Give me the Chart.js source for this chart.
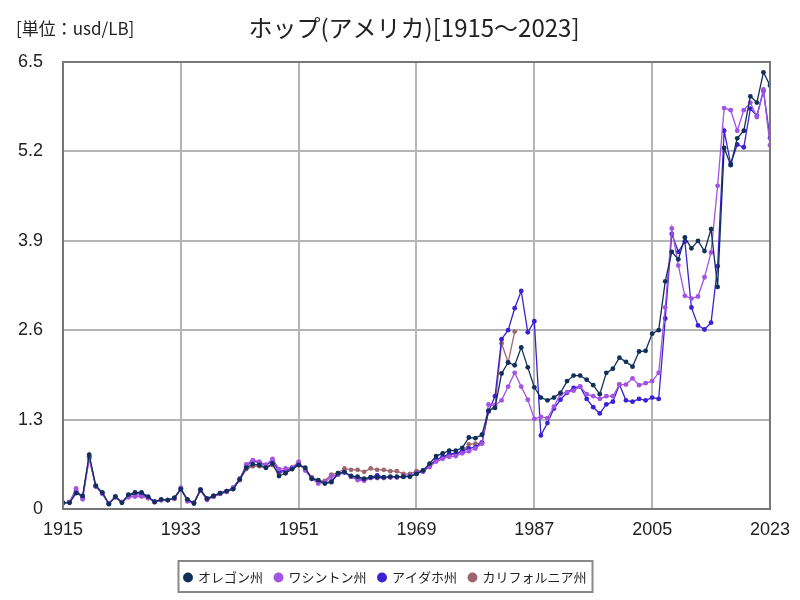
<!DOCTYPE html>
<html>
<head>
<meta charset="utf-8">
<script src="https://cdn.jsdelivr.net/npm/chart.js@4"></script>
<style>
  html, body { margin: 0; padding: 0; background: #fff; }
  #wrap { width: 800px; height: 600px; }
</style>
</head>
<body>
<div id="wrap"><canvas id="hopChart" width="800" height="600"></canvas></div>
<script>
// years 1915..2023
const years = [];
for (let y = 1915; y <= 2023; y++) years.push(y);

const xTicks = [1915, 1933, 1951, 1969, 1987, 2005, 2023];
const yTicks = [0, 1.3, 2.6, 3.9, 5.2, 6.5];

const oregon = [
  0.09, 0.09, 0.23, 0.19, 0.79, 0.34, 0.24, 0.07, 0.18, 0.09,
  0.21, 0.24, 0.24, 0.18, 0.10, 0.14, 0.13, 0.16, 0.29, 0.14,
  0.08, 0.28, 0.15, 0.19, 0.23, 0.26, 0.29, 0.43, 0.60, 0.65,
  0.64, 0.60, 0.66, 0.48, 0.52, 0.58, 0.64, 0.60, 0.44, 0.42,
  0.37, 0.39, 0.52, 0.54, 0.48, 0.47, 0.44, 0.46, 0.46, 0.46,
  0.47, 0.47, 0.47, 0.47, 0.51, 0.56, 0.66, 0.77, 0.81, 0.85,
  0.85, 0.89, 1.04, 1.03, 1.08, 1.43, 1.47, 1.97, 2.13, 2.09,
  2.35, 2.06, 1.77, 1.62, 1.58, 1.62, 1.69, 1.86, 1.94, 1.94,
  1.88, 1.80, 1.67, 1.98, 2.04, 2.20, 2.14, 2.07, 2.29, 2.30,
  2.55, 2.60, 3.31, 3.74, 3.63, 3.95, 3.79, 3.90, 3.75, 4.07,
  3.23, 5.25, 5.00, 5.39, 5.50, 6.00, 5.91, 6.35, 6.16
];

const washington = [
  0.09, 0.10, 0.30, 0.14, 0.73, 0.33, 0.22, 0.08, 0.17, 0.10,
  0.17, 0.18, 0.18, 0.16, 0.10, 0.13, 0.13, 0.15, 0.31, 0.11,
  0.09, 0.27, 0.13, 0.18, 0.22, 0.25, 0.30, 0.43, 0.65, 0.71,
  0.69, 0.64, 0.73, 0.58, 0.59, 0.60, 0.69, 0.56, 0.44, 0.37,
  0.39, 0.47, 0.50, 0.54, 0.47, 0.42, 0.41, 0.45, 0.45, 0.45,
  0.46, 0.46, 0.47, 0.49, 0.52, 0.54, 0.61, 0.69, 0.73, 0.76,
  0.77, 0.81, 0.84, 0.88, 0.95, 1.52, 1.51, 1.58, 1.78, 1.98,
  1.78, 1.59, 1.31, 1.34, 1.32, 1.49, 1.67, 1.70, 1.72, 1.78,
  1.67, 1.64, 1.60, 1.64, 1.64, 1.81, 1.81, 1.90, 1.80, 1.83,
  1.86, 1.98, 2.93, 4.08, 3.54, 3.10, 3.06, 3.09, 3.37, 3.73,
  4.70, 5.83, 5.80, 5.50, 5.80, 5.91, 5.70, 6.10, 5.29
];

const idaho = [
  0.09, 0.10, 0.25, 0.17, 0.76, 0.33, 0.23, 0.08, 0.18, 0.10,
  0.20, 0.22, 0.22, 0.17, 0.11, 0.13, 0.13, 0.16, 0.29, 0.13,
  0.09, 0.28, 0.15, 0.19, 0.23, 0.26, 0.31, 0.44, 0.62, 0.70,
  0.67, 0.64, 0.70, 0.55, 0.56, 0.60, 0.66, 0.58, 0.45, 0.40,
  0.38, 0.40, 0.50, 0.53, 0.47, 0.44, 0.43, 0.46, 0.49, 0.46,
  0.46, 0.46, 0.47, 0.48, 0.52, 0.55, 0.63, 0.72, 0.76, 0.80,
  0.81, 0.84, 0.88, 0.90, 0.97, 1.42, 1.64, 2.47, 2.60, 2.92,
  3.17, 2.57, 2.73, 1.07, 1.25, 1.46, 1.59, 1.69, 1.76, 1.78,
  1.60, 1.48, 1.39, 1.52, 1.56, 1.81, 1.58, 1.56, 1.60, 1.58,
  1.62, 1.60, 2.77, 4.00, 3.74, 3.89, 2.93, 2.67, 2.61, 2.71,
  3.53, 5.50, 5.02, 5.30, 5.26, 5.82, 5.72, 6.08, 5.40
];

// California series stops after 1984
const california = [
  0.09, 0.10, 0.27, 0.18, 0.75, 0.33, 0.23, 0.08, 0.17, 0.10,
  0.18, 0.19, 0.19, 0.16, 0.10, 0.13, 0.13, 0.15, 0.30, 0.13,
  0.09, 0.27, 0.14, 0.18, 0.22, 0.25, 0.29, 0.42, 0.58, 0.62,
  0.62, 0.60, 0.64, 0.52, 0.55, 0.58, 0.64, 0.58, 0.46, 0.41,
  0.41, 0.50, 0.52, 0.59, 0.57, 0.57, 0.54, 0.59, 0.57, 0.57,
  0.55, 0.55, 0.51, 0.51, 0.55, 0.56, 0.63, 0.71, 0.75, 0.78,
  0.80, 0.83, 0.94, 0.95, 0.96, 1.42, 1.50, 2.41, 2.13, 2.58
];

const seriesNames = ["オレゴン州", "ワシントン州", "アイダホ州", "カリフォルニア州"];
const seriesColors = ["#10305a", "#a452e4", "#3b21d4", "#a0666f"];

function toPoints(vals) {
  return vals.map((v, i) => ({ x: years[i], y: v }));
}

// draws the unit label, title and a frame round the legend items
const decorPlugin = {
  id: "decor",
  afterDraw(chart) {
    const ctx = chart.ctx;
    ctx.save();
    ctx.fillStyle = "#222";
    ctx.textBaseline = "middle";
    ctx.font = '17px "Noto Sans CJK JP"';
    ctx.textAlign = "left";
    ctx.fillText("[単位：usd/LB]", 16, 29);
    ctx.font = '24px "Noto Sans CJK JP"';
    ctx.textAlign = "center";
    ctx.fillText("ホップ(アメリカ)[1915～2023]", 414, 28);

    const boxes = chart.legend.legendHitBoxes;
    if (boxes && boxes.length) {
      const left = Math.min(...boxes.map(b => b.left)) - 6;
      const right = Math.max(...boxes.map(b => b.left + b.width)) + 6;
      const top = chart.legend.top + 2;
      const bottom = chart.legend.bottom - 2;
      ctx.strokeStyle = "#888";
      ctx.lineWidth = 2;
      ctx.strokeRect(left, top, right - left, bottom - top);
    }
    ctx.restore();
  }
};

const ctx = document.getElementById("hopChart");
new Chart(ctx, {
  type: "line",
  data: {
    datasets: [oregon, washington, idaho, california].map((vals, i) => ({
      label: seriesNames[i],
      data: toPoints(vals),
      borderColor: seriesColors[i],
      backgroundColor: seriesColors[i],
      borderWidth: 1.3,
      pointRadius: 2.4,
      pointHoverRadius: 2.4,
      pointBorderWidth: 0,
      tension: 0,
      fill: false
    }))
  },
  options: {
    responsive: false,
    animation: false,
    layout: { padding: { top: 62, right: 29, left: 0, bottom: 6 } },
    plugins: {
      title: { display: false },
      tooltip: { enabled: false },
      legend: {
        position: "bottom",
        labels: {
          usePointStyle: true,
          pointStyle: "circle",
          boxWidth: 7,
          boxHeight: 7,
          padding: 12,
          color: "#222",
          font: { family: '"Noto Sans CJK JP"', size: 13 }
        }
      }
    },
    scales: {
      x: {
        type: "linear",
        min: 1915,
        max: 2023,
        afterFit(scale) { scale.height = 50; },
        afterBuildTicks(scale) { scale.ticks = xTicks.map(v => ({ value: v })); },
        ticks: {
          color: "#222",
          font: { family: '"Liberation Sans"', size: 18 },
          maxRotation: 0,
          padding: 10,
          callback: v => String(v)
        },
        grid: { color: "#b4b4b4", lineWidth: 2, drawTicks: false },
        border: { color: "#777", width: 2 }
      },
      y: {
        min: 0,
        max: 6.5,
        afterFit(scale) { scale.width = 63; },
        afterBuildTicks(scale) { scale.ticks = yTicks.map(v => ({ value: v })); },
        ticks: {
          color: "#222",
          font: { family: '"Liberation Sans"', size: 18 },
          padding: 20,
          callback: v => String(v)
        },
        grid: { color: "#b4b4b4", lineWidth: 2, drawTicks: false },
        border: { color: "#777", width: 2 }
      }
    }
  },
  plugins: [decorPlugin, {
    id: "frame",
    afterDatasetsDraw(chart) {
      const a = chart.chartArea;
      const c = chart.ctx;
      c.save();
      c.strokeStyle = "#777";
      c.lineWidth = 2;
      c.strokeRect(a.left, a.top, a.right - a.left, a.bottom - a.top);
      c.restore();
    }
  }]
});
</script>
</body>
</html>
